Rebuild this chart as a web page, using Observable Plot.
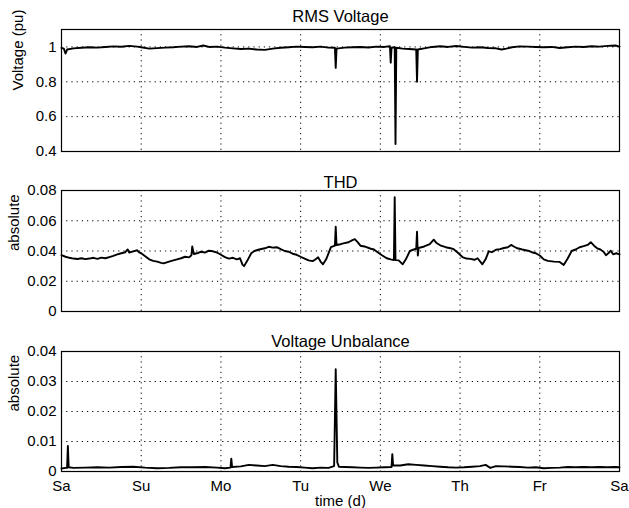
<!DOCTYPE html>
<html>
<head>
<meta charset="utf-8">
<script src="https://cdn.jsdelivr.net/npm/d3@7"></script>
<script src="https://cdn.jsdelivr.net/npm/@observablehq/plot@0.6"></script>
<style>
  html, body { margin: 0; padding: 0; background: #fff; }
  #chart { width: 629px; height: 508px; }
  #chart svg { display: block; }
</style>
</head>
<body>
<div id="chart"></div>
<script>
// ---------- data ----------
const dayTicks = [0, 1, 2, 3, 4, 5, 6, 7];
const dayLabels = ["Sa", "Su", "Mo", "Tu", "We", "Th", "Fr", "Sa"];

const titles = ["RMS Voltage", "THD", "Voltage Unbalance"];
const yLabels = ["Voltage (pu)", "absolute", "absolute"];
const xLabel = "time (d)";

const rmsTicks = [0.4, 0.6, 0.8, 1];
const rmsTickLabels = ["0.4", "0.6", "0.8", "1"];
const thdTicks = [0, 0.02, 0.04, 0.06, 0.08];
const thdTickLabels = ["0", "0.02", "0.04", "0.06", "0.08"];
const unbTicks = [0, 0.01, 0.02, 0.03, 0.04];
const unbTickLabels = ["0", "0.01", "0.02", "0.03", "0.04"];

// [day, value]
const rms = [
  [0.00,0.995],[0.03,0.990],[0.05,0.962],[0.07,0.985],[0.15,0.992],[0.25,0.995],[0.35,0.998],
  [0.45,0.996],[0.55,1.000],[0.65,1.003],[0.75,1.001],[0.85,1.006],[0.95,1.002],[1.00,0.998],
  [1.10,0.990],[1.20,0.993],[1.30,0.996],[1.40,0.998],[1.50,1.002],[1.60,1.004],[1.70,1.000],
  [1.78,1.008],[1.85,1.000],[1.95,1.002],[2.05,0.996],[2.15,0.992],[2.25,0.988],[2.35,0.990],
  [2.45,0.985],[2.55,0.983],[2.65,0.990],[2.75,0.995],[2.85,0.998],[2.95,1.002],[3.05,1.000],
  [3.15,0.998],[3.25,1.002],[3.35,0.996],[3.43,0.995],[3.44,0.880],[3.45,0.990],[3.55,0.996],
  [3.65,0.998],[3.75,1.000],[3.85,0.997],[3.95,1.002],[4.05,1.000],[4.12,1.004],[4.13,0.910],
  [4.14,0.995],[4.18,0.998],[4.19,0.443],[4.20,0.995],[4.28,0.990],[4.36,0.988],[4.45,0.985],
  [4.46,0.800],[4.47,0.985],[4.55,0.992],[4.65,1.000],[4.75,1.004],[4.85,1.000],[4.95,1.005],
  [5.05,1.000],[5.15,0.996],[5.25,0.998],[5.35,0.994],[5.45,0.992],[5.52,0.985],[5.58,0.990],
  [5.65,0.998],[5.75,1.003],[5.85,1.002],[5.95,1.000],[6.05,0.998],[6.15,1.000],[6.25,0.994],
  [6.35,0.998],[6.45,1.002],[6.55,1.000],[6.65,1.004],[6.75,1.002],[6.85,1.006],[6.95,1.008],
  [7.00,1.002]
];

const thd = [
  [0.00,0.0372],[0.05,0.0362],[0.10,0.0355],[0.15,0.0350],[0.20,0.0347],[0.25,0.0352],[0.30,0.0346],
  [0.35,0.0350],[0.40,0.0355],[0.45,0.0348],[0.50,0.0356],[0.55,0.0352],[0.60,0.0360],[0.65,0.0368],
  [0.70,0.0378],[0.75,0.0385],[0.80,0.0392],[0.83,0.0410],[0.85,0.0390],[0.90,0.0398],[0.95,0.0405],
  [0.97,0.0392],[1.00,0.0385],[1.05,0.0365],[1.10,0.0345],[1.15,0.0335],[1.20,0.0330],[1.25,0.0322],
  [1.28,0.0318],[1.32,0.0325],[1.38,0.0335],[1.45,0.0345],[1.50,0.0352],[1.55,0.0362],[1.60,0.0358],
  [1.63,0.0372],[1.64,0.0430],[1.66,0.0380],[1.70,0.0385],[1.75,0.0395],[1.80,0.0390],[1.85,0.0402],
  [1.90,0.0398],[1.95,0.0390],[2.00,0.0375],[2.05,0.0360],[2.10,0.0350],[2.15,0.0355],[2.20,0.0345],
  [2.24,0.0352],[2.27,0.0310],[2.29,0.0300],[2.33,0.0335],[2.38,0.0385],[2.42,0.0400],[2.48,0.0410],
  [2.55,0.0418],[2.60,0.0428],[2.65,0.0422],[2.70,0.0425],[2.75,0.0412],[2.80,0.0400],[2.85,0.0395],
  [2.90,0.0382],[2.95,0.0375],[3.00,0.0362],[3.05,0.0350],[3.10,0.0338],[3.15,0.0333],[3.18,0.0342],
  [3.22,0.0358],[3.25,0.0330],[3.28,0.0312],[3.32,0.0345],[3.38,0.0425],[3.43,0.0435],[3.44,0.0560],
  [3.45,0.0440],[3.50,0.0445],[3.55,0.0452],[3.60,0.0458],[3.65,0.0472],[3.68,0.0478],[3.72,0.0455],
  [3.75,0.0435],[3.80,0.0430],[3.88,0.0415],[3.92,0.0410],[3.97,0.0390],[4.02,0.0372],[4.08,0.0352],
  [4.13,0.0345],[4.17,0.0340],[4.18,0.0756],[4.19,0.0340],[4.23,0.0338],[4.28,0.0312],[4.32,0.0345],
  [4.37,0.0400],[4.42,0.0410],[4.45,0.0415],[4.46,0.0527],[4.47,0.0370],[4.48,0.0420],[4.55,0.0430],
  [4.62,0.0445],[4.67,0.0475],[4.70,0.0455],[4.76,0.0435],[4.82,0.0425],[4.88,0.0418],[4.92,0.0412],
  [4.98,0.0385],[5.03,0.0360],[5.08,0.0350],[5.13,0.0348],[5.18,0.0342],[5.22,0.0352],[5.28,0.0312],
  [5.32,0.0345],[5.36,0.0398],[5.40,0.0392],[5.45,0.0408],[5.50,0.0412],[5.55,0.0420],[5.60,0.0425],
  [5.64,0.0440],[5.68,0.0428],[5.72,0.0418],[5.78,0.0410],[5.85,0.0402],[5.90,0.0392],[5.95,0.0385],
  [6.00,0.0370],[6.05,0.0345],[6.10,0.0335],[6.18,0.0330],[6.25,0.0328],[6.30,0.0308],[6.35,0.0350],
  [6.40,0.0400],[6.45,0.0410],[6.50,0.0425],[6.55,0.0432],[6.60,0.0440],[6.64,0.0458],[6.68,0.0435],
  [6.72,0.0418],[6.76,0.0410],[6.80,0.0395],[6.83,0.0372],[6.86,0.0385],[6.89,0.0402],[6.92,0.0378],
  [6.96,0.0385],[7.00,0.0378]
];

const unbalance = [
  [0.00,0.0010],[0.05,0.0012],[0.07,0.0012],[0.08,0.0085],[0.09,0.0014],[0.15,0.0012],[0.30,0.0013],
  [0.45,0.0014],[0.60,0.0013],[0.75,0.0015],[0.90,0.0016],[1.05,0.0013],[1.20,0.0011],[1.35,0.0012],
  [1.50,0.0014],[1.65,0.0014],[1.80,0.0015],[1.95,0.0013],[2.05,0.0011],[2.12,0.0013],[2.13,0.0043],
  [2.14,0.0015],[2.25,0.0017],[2.35,0.0022],[2.45,0.0020],[2.55,0.0018],[2.65,0.0022],[2.75,0.0018],
  [2.85,0.0016],[2.95,0.0015],[3.05,0.0013],[3.15,0.0011],[3.25,0.0013],[3.35,0.0012],[3.42,0.0018],
  [3.44,0.0341],[3.46,0.0030],[3.48,0.0016],[3.55,0.0015],[3.65,0.0014],[3.75,0.0013],[3.85,0.0012],
  [3.95,0.0013],[4.05,0.0014],[4.14,0.0015],[4.15,0.0058],[4.16,0.0020],[4.25,0.0020],[4.35,0.0024],
  [4.45,0.0022],[4.55,0.0020],[4.65,0.0018],[4.75,0.0016],[4.85,0.0014],[4.95,0.0013],[5.05,0.0014],
  [5.15,0.0016],[5.25,0.0018],[5.32,0.0022],[5.38,0.0012],[5.45,0.0018],[5.55,0.0017],[5.65,0.0016],
  [5.75,0.0015],[5.85,0.0013],[5.95,0.0014],[6.05,0.0011],[6.15,0.0012],[6.25,0.0013],[6.35,0.0015],
  [6.45,0.0014],[6.55,0.0015],[6.65,0.0014],[6.75,0.0015],[6.85,0.0014],[6.95,0.0015],[7.00,0.0014]
];

// ---------- drawing ----------
const FONT = "'Liberation Sans', Arial, Helvetica, sans-serif";

function panel({data, domain, ticks, tickLabels, title, ylabel, height, mt, mb, titleGap, ylabelDx, showX}) {
  const inner = ticks.filter(t => t !== domain[0] && t !== domain[1]);
  const marks = [
    Plot.gridX(dayTicks.slice(1, -1), {stroke: "#000", strokeOpacity: 1, strokeWidth: 1, strokeDasharray: "1.2,4"}),
    Plot.gridY(inner, {stroke: "#000", strokeOpacity: 1, strokeWidth: 1, strokeDasharray: "1.2,4"}),
    Plot.line(data, {x: d => d[0], y: d => d[1], stroke: "#000", strokeWidth: 1.9, strokeLinejoin: "round"}),
    Plot.frame({stroke: "#000", strokeWidth: 1.2}),
    Plot.axisY({ticks, tickFormat: (d, i) => tickLabels[i], tickSize: 0, tickPadding: 5, label: null, fontSize: 15}),
    Plot.text([title], {frameAnchor: "top", lineAnchor: "bottom", dy: -titleGap, fontSize: 16.5, fill: "#000"}),
    Plot.text([ylabel], {frameAnchor: "left", rotate: -90, dx: ylabelDx, fontSize: 15, fill: "#000"})
  ];
  if (showX) {
    marks.push(Plot.axisX({ticks: dayTicks, tickFormat: (d, i) => dayLabels[i], tickSize: 0, tickPadding: 9, label: null, fontSize: 15}));
    marks.push(Plot.text([xLabel], {frameAnchor: "bottom", lineAnchor: "bottom", dy: 34, fontSize: 15, fill: "#000"}));
  } else {
    marks.push(Plot.axisX({ticks: [], label: null}));
  }
  return Plot.plot({
    width: 629, height,
    marginLeft: 61, marginRight: 10, marginTop: mt, marginBottom: mb,
    style: {fontFamily: FONT, fontSize: "15px", color: "#000", background: "#fff", overflow: "visible"},
    x: {domain: [0, 7]},
    y: {domain},
    marks
  });
}

const root = document.getElementById("chart");
root.append(panel({data: rms, domain: [0.4, 1.1], ticks: rmsTicks, tickLabels: rmsTickLabels,
  title: titles[0], ylabel: yLabels[0], height: 160, mt: 29, mb: 9, titleGap: 8, ylabelDx: -43, showX: false}));
root.append(panel({data: thd, domain: [0, 0.08], ticks: thdTicks, tickLabels: thdTickLabels,
  title: titles[1], ylabel: yLabels[1], height: 160, mt: 30, mb: 9, titleGap: 3, ylabelDx: -47, showX: false}));
root.append(panel({data: unbalance, domain: [0, 0.04], ticks: unbTicks, tickLabels: unbTickLabels,
  title: titles[2], ylabel: yLabels[2], height: 188, mt: 31, mb: 37, titleGap: 5, ylabelDx: -47, showX: true}));
</script>
</body>
</html>
